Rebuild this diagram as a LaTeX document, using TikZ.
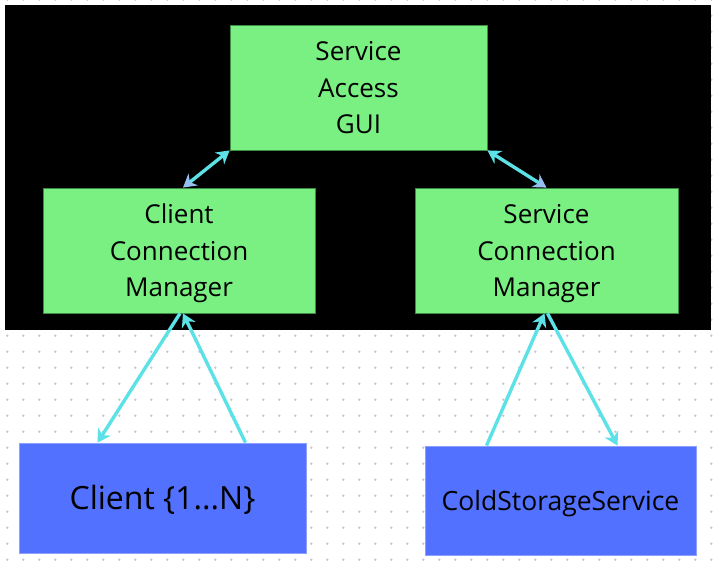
\documentclass[tikz,border=0pt]{standalone}
\usepackage{fontspec}
\setmainfont{Open Sans}
\usetikzlibrary{arrows.meta}
\definecolor{boxgreen}{RGB}{122,240,130}
\definecolor{edgegreen}{RGB}{60,140,70}
\definecolor{boxblue}{RGB}{82,113,255}
\definecolor{edgeblue}{RGB}{140,160,255}
\definecolor{linkcyan}{RGB}{92,225,230}
\definecolor{tipblue}{RGB}{150,190,240}
\definecolor{dotgray}{RGB}{196,198,210}
\begin{document}
\begin{tikzpicture}[x=1pt, y=-1pt,
        greenbox/.style={draw=edgegreen, fill=boxgreen, line width=0.8pt, align=center, text depth=0pt, font=\fontsize{26}{36.5}\selectfont},
        bluebox/.style={draw=edgeblue, fill=boxblue, line width=0.8pt, align=center, text depth=0pt},
        link/.style={draw=linkcyan, line width=3.4pt, -{Stealth[length=13pt, width=15pt]}}]
        \useasboundingbox (0,0) rectangle (717,566);
        % background
        \foreach \i in {0,...,44}
            \foreach \j in {0,...,35}
                \fill[dotgray] (7.3+16*\i, -0.3+16*\j) circle (1.3);
        \fill[black] (5,5) rectangle (711,330);
        % boxes
        \node[greenbox, minimum width=257pt, minimum height=125pt] (gui) at (358.5,87.5) {Service\\Access\\GUI};
        \node[greenbox, minimum width=272pt, minimum height=125pt] (ccm) at (179,250.5) {Client\\Connection\\Manager};
        \node[greenbox, minimum width=263pt, minimum height=125pt] (scm) at (546.5,250.5) {Service\\Connection\\Manager};
        \node[bluebox, minimum width=287pt, minimum height=110pt, text height=23pt, font=\fontsize{32}{38}\selectfont] (client) at (162.5,498) {Client \{1...N\}};
        \node[bluebox, minimum width=271pt, minimum height=109pt, text height=19pt, font=\fontsize{26.5}{32}\selectfont] (css) at (560.5,500.5) {ColdStorageService};
        % links
        \draw[link, {Stealth[length=13pt, width=15pt, color=tipblue]}-{Stealth[length=13pt, width=15pt]}] ([xshift=4pt]ccm.north) -- (gui.south west);
        \draw[link, {Stealth[length=13pt, width=15pt]}-{Stealth[length=13pt, width=15pt, color=tipblue]}] (gui.south east) -- (scm.north);
        \draw[link] ([xshift=1pt]ccm.south) -- ([xshift=-65pt]client.north);
        \draw[link] ([xshift=83pt]client.north) -- ([xshift=4pt]ccm.south);
        \draw[link] ([xshift=-74pt]css.north) -- ([xshift=-2pt]scm.south);
        \draw[link] ([xshift=1pt]scm.south) -- ([xshift=57pt]css.north);
\end{tikzpicture}
\end{document}
